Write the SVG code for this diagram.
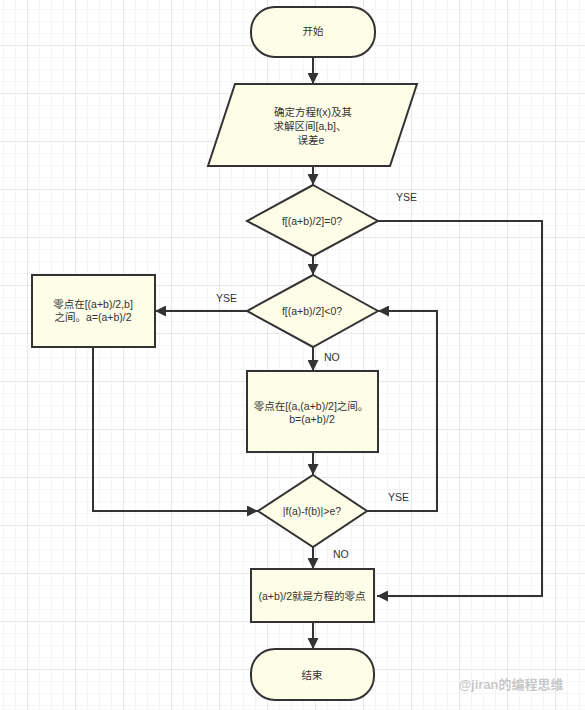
<svg xmlns="http://www.w3.org/2000/svg" width="585" height="710" viewBox="0 0 585 710">
<style>
.n{fill:#fdfde8;stroke:#333;stroke-width:2}
.c{fill:none;stroke:#333;stroke-width:2}
.t{font-family:"Liberation Sans","Noto Sans CJK SC",sans-serif;font-size:10.5px;fill:#333;text-anchor:middle;dominant-baseline:central}
.l{font-family:"Liberation Sans","Noto Sans CJK SC",sans-serif;font-size:10.5px;fill:#333;dominant-baseline:central}
</style>
<defs>
<pattern id="minor" x="3" y="9" width="12" height="12" patternUnits="userSpaceOnUse">
<path d="M0 0H12M0 0V12" fill="none" stroke="#ececec" stroke-width="1"/>
</pattern>
<pattern id="major" x="27" y="45" width="48" height="48" patternUnits="userSpaceOnUse">
<path d="M0 0H48M0 0V48" fill="none" stroke="#dcdcdc" stroke-width="1"/>
</pattern>
<marker id="a" viewBox="0 0 10 10" refX="10" refY="5" markerWidth="5.5" markerHeight="5.5" orient="auto" markerUnits="strokeWidth">
<path d="M0 0L10 5L0 10z" fill="#333"/>
</marker>
</defs>
<rect width="585" height="710" fill="#fff"/>
<rect width="585" height="710" fill="url(#minor)"/>
<rect width="585" height="710" fill="url(#major)"/>
<g id="connectors">
<path class="c" d="M313 57V84" marker-end="url(#a)"/>
<path class="c" d="M313 166V185" marker-end="url(#a)"/>
<path class="c" d="M313 256V275" marker-end="url(#a)"/>
<path class="c" d="M378 221H542V596H377" marker-end="url(#a)"/>
<path class="c" d="M247 311H155" marker-end="url(#a)"/>
<path class="c" d="M313 347V371" marker-end="url(#a)"/>
<path class="c" d="M93 347V511H258" marker-end="url(#a)"/>
<path class="c" d="M313 452V475" marker-end="url(#a)"/>
<path class="c" d="M367 511H437V311H378" marker-end="url(#a)"/>
<path class="c" d="M313 547V569" marker-end="url(#a)"/>
<path class="c" d="M313 622V649" marker-end="url(#a)"/>
<text class="l" x="396" y="197">YSE</text>
<text class="l" x="216" y="298">YSE</text>
<text class="l" x="324" y="357">NO</text>
<text class="l" x="388" y="497">YSE</text>
<text class="l" x="333" y="554">NO</text>
</g>
<g id="start">
<rect class="n" x="251" y="7" width="124" height="50" rx="24"/>
<text class="t" x="313" y="31">开始</text>
</g>
<g id="input">
<polygon class="n" points="235,84 417,84 390,166 208,166"/>
<text class="t" x="313" y="112">确定方程f(x)及其</text>
<text class="t" x="310" y="126">求解区间[a,b]、</text>
<text class="t" x="311" y="140">误差e</text>
</g>
<g id="d1">
<polygon class="n" points="313,185 378,221 313,256 247,221"/>
<text class="t" x="312" y="221">f[(a+b)/2]=0?</text>
</g>
<g id="d2">
<polygon class="n" points="313,275 378,311 313,347 247,311"/>
<text class="t" x="312" y="311">f[(a+b)/2]&lt;0?</text>
</g>
<g id="left">
<rect class="n" x="32" y="275" width="123" height="72"/>
<text class="t" x="93" y="304">零点在[(a+b)/2,b]</text>
<text class="t" x="93" y="317">之间。a=(a+b)/2</text>
</g>
<g id="mid">
<rect class="n" x="247" y="371" width="131" height="81"/>
<text class="t" x="311" y="406">零点在[(a,(a+b)/2]之间。</text>
<text class="t" x="312" y="419">b=(a+b)/2</text>
</g>
<g id="d3">
<polygon class="n" points="313,475 367,511 313,547 258,511"/>
<text class="t" x="312" y="511">|f(a)-f(b)|&gt;e?</text>
</g>
<g id="result">
<rect class="n" x="251" y="569" width="123" height="53"/>
<text class="t" x="312" y="596">(a+b)/2就是方程的零点</text>
</g>
<g id="end">
<rect class="n" x="251" y="649" width="123" height="51" rx="24"/>
<text class="t" x="312" y="675">结束</text>
</g>
<text x="511" y="684" font-family="Liberation Sans,'Noto Sans CJK SC',sans-serif" font-size="13" font-weight="bold" fill="#999" fill-opacity="0.55" text-anchor="middle" dominant-baseline="central">@jiran的编程思维</text>
</svg>
